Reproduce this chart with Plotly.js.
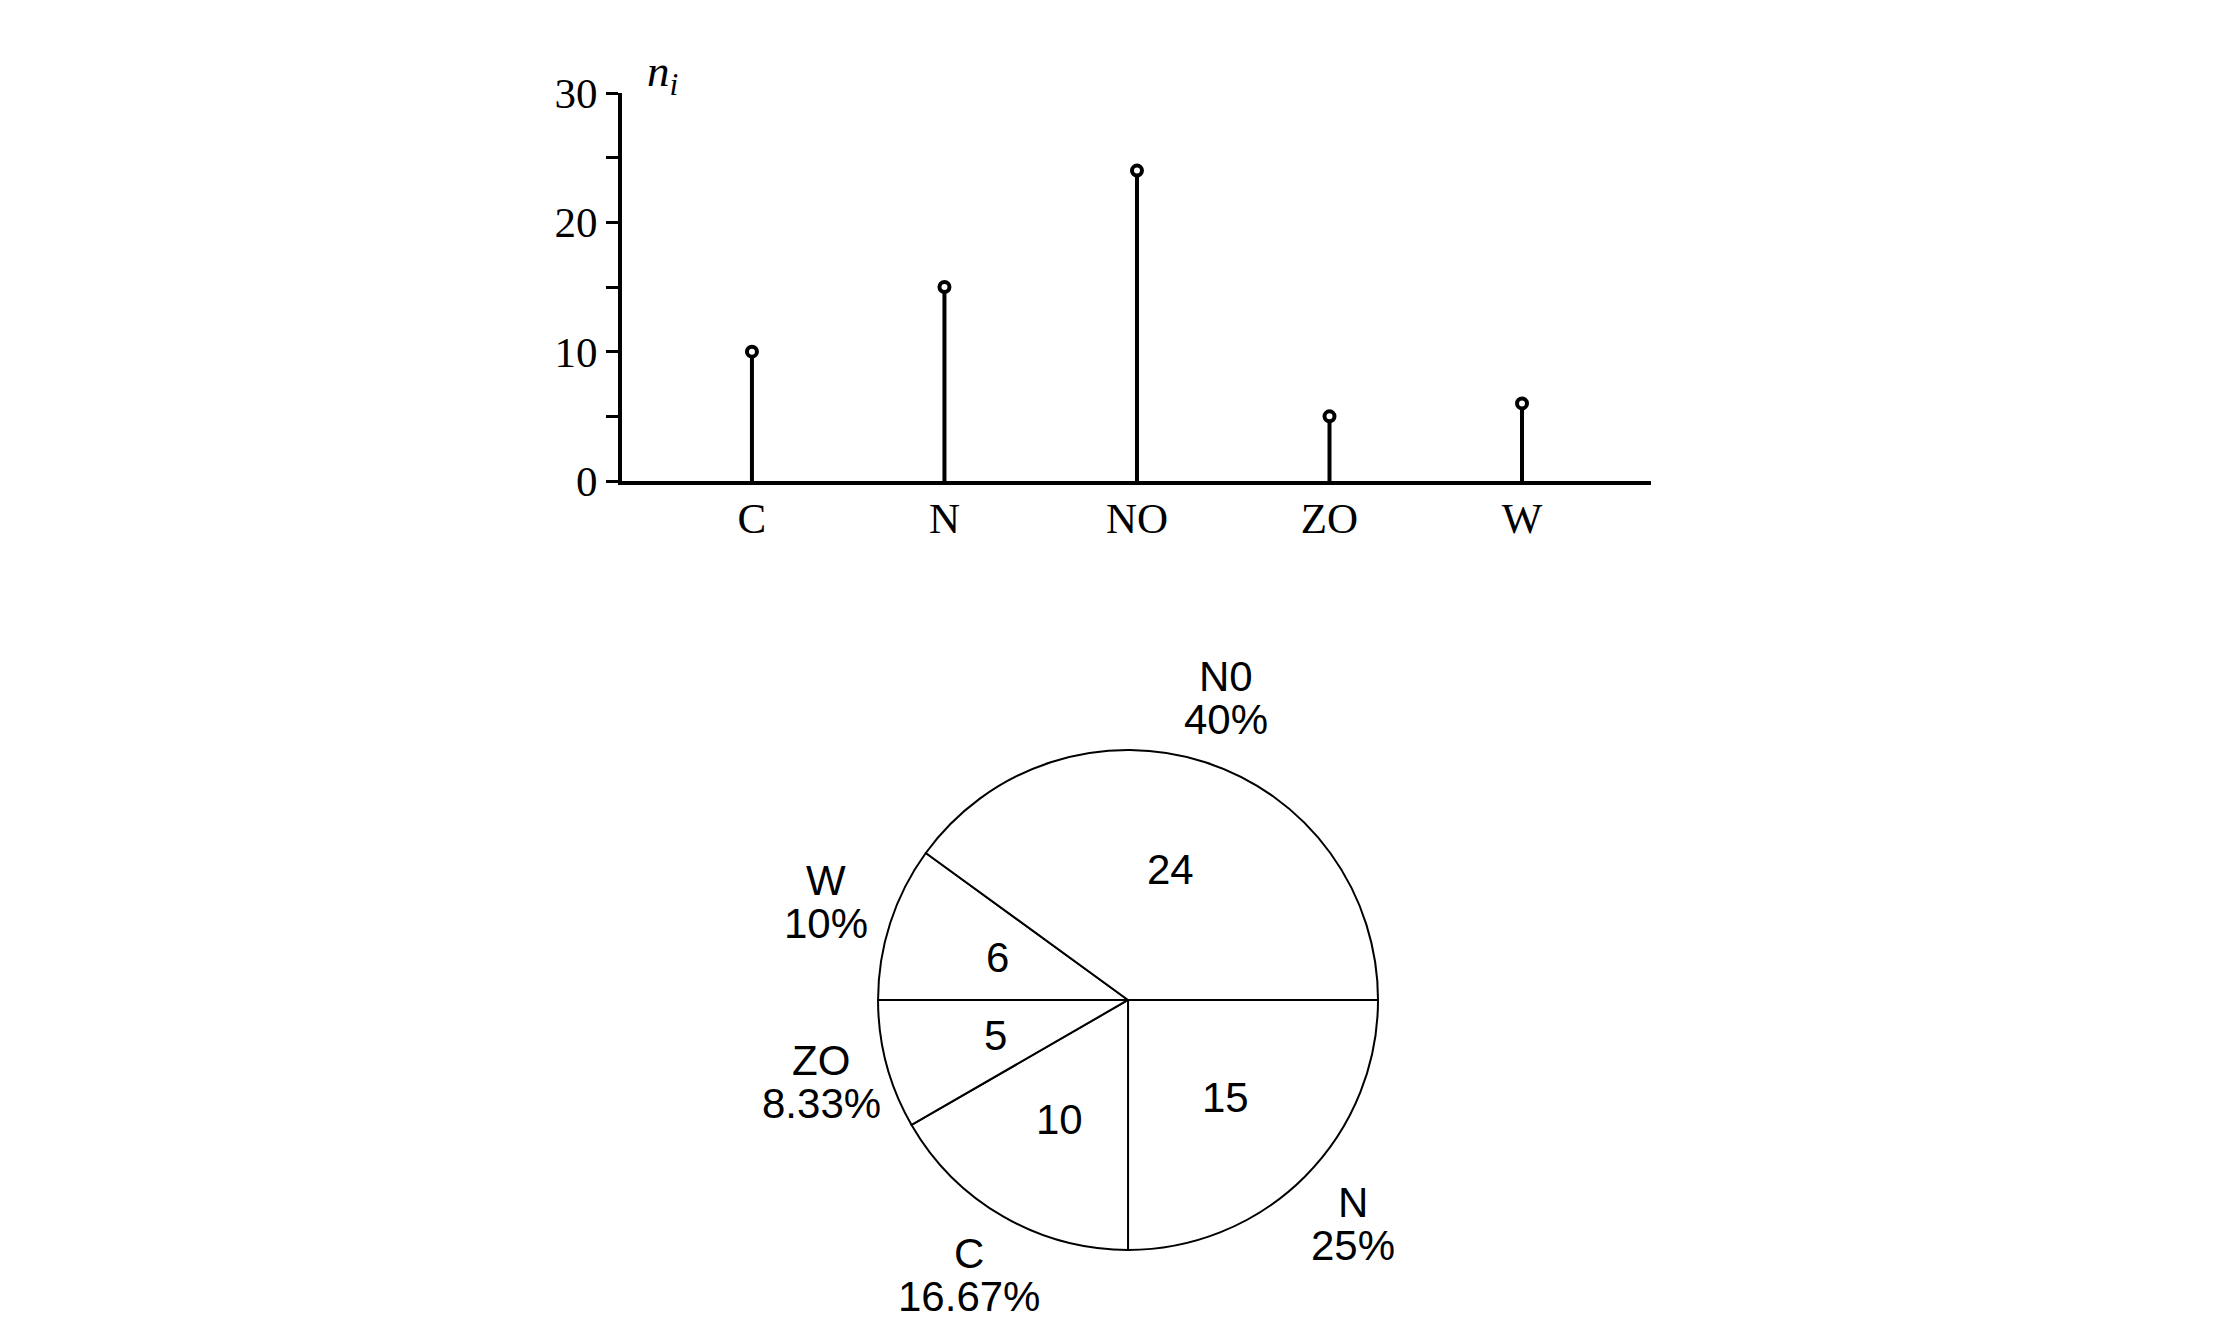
<!DOCTYPE html>
<html>
<head>
<meta charset="utf-8">
<script src="https://cdn.plot.ly/plotly-3.0.1.min.js"></script>
<style>
  html, body { margin: 0; padding: 0; background: #fff; }
  #chart { width: 2228px; height: 1322px; }
</style>
</head>
<body>
<div id="chart"></div>
<script>
// ---- data ----
var categories = ['C', 'N', 'NO', 'ZO', 'W'];
var counts = [10, 15, 24, 5, 6];
var yTickVals = [0, 10, 20, 30];
var yMinorTickVals = [5, 15, 25];
// pie order (clockwise from 3 o'clock) and the labels printed beside the pie
var pieCategories = ['N', 'C', 'ZO', 'W', 'NO'];
var pieLabelText = ['N', 'C', 'ZO', 'W', 'N0'];

// ---- derived ----
var W = 2228, H = 1322;
var pieValues = pieCategories.map(function (c) { return counts[categories.indexOf(c)]; });
var total = pieValues.reduce(function (a, b) { return a + b; }, 0);
var piePercent = pieValues.map(function (v) { return parseFloat((v / total * 100).toFixed(2)) + '%'; });

var pieDomX = [0.3941, 0.6185];
var pieDomY = [0.0545, 0.4327];
var cx = (pieDomX[0] + pieDomX[1]) / 2 * W;
var cy = (1 - (pieDomY[0] + pieDomY[1]) / 2) * H;
var r = Math.min((pieDomX[1] - pieDomX[0]) * W, (pieDomY[1] - pieDomY[0]) * H) / 2;

var sansFont = 'Liberation Sans, Arial, Helvetica, sans-serif';
var serifFont = 'Liberation Serif, Times New Roman, serif';

var annotations = [];
// y-axis name
annotations.push({
  xref: 'paper', yref: 'paper', x: 662 / W, y: 1 - 74 / H,
  text: '<i>n</i><sub><i>i</i></sub>', showarrow: false,
  xanchor: 'center', yanchor: 'middle',
  font: { family: serifFont, size: 45, color: '#000' }
});

var cum = 0;
pieValues.forEach(function (v, i) {
  var mid = (cum + v / 2) / total;
  cum += v;
  var th = -mid * 2 * Math.PI;
  var ux = Math.cos(th), uy = Math.sin(th);
  // value inside the slice
  var kin = 0.55;
  annotations.push({
    xref: 'paper', yref: 'paper',
    x: (cx + kin * r * ux) / W, y: 1 - (cy - kin * r * uy) / H,
    text: String(v), showarrow: false, xanchor: 'center', yanchor: 'middle',
    font: { family: sansFont, size: 42, color: '#000' }
  });
  // name and percent outside
  var kout = 1.27;
  var bx = cx + kout * r * ux, by = cy - kout * r * uy;
  annotations.push({
    xref: 'paper', yref: 'paper', x: bx / W, y: 1 - (by - 21.5) / H,
    text: pieLabelText[i], showarrow: false, xanchor: 'center', yanchor: 'middle',
    font: { family: sansFont, size: 42, color: '#000' }
  });
  annotations.push({
    xref: 'paper', yref: 'paper', x: bx / W, y: 1 - (by + 21.5) / H,
    text: piePercent[i], showarrow: false, xanchor: 'center', yanchor: 'middle',
    font: { family: sansFont, size: 42, color: '#000' }
  });
});

var stems = {
  type: 'scatter', mode: 'markers',
  x: categories, y: counts,
  marker: { symbol: 'circle', size: 10, color: '#fff', line: { color: '#000', width: 4 } },
  error_y: {
    type: 'data', symmetric: false,
    array: counts.map(function () { return 0; }),
    arrayminus: counts,
    width: 0, thickness: 4, color: '#000'
  },
  cliponaxis: false, hoverinfo: 'x+y', showlegend: false
};

var pie = {
  type: 'pie',
  labels: pieLabelText, values: pieValues,
  sort: false, direction: 'clockwise', rotation: 90,
  domain: { x: pieDomX, y: pieDomY },
  marker: { colors: pieValues.map(function () { return '#ffffff'; }), line: { color: '#000', width: 2 } },
  textinfo: 'none', showlegend: false, hoverinfo: 'label+value+percent'
};

var layout = {
  width: W, height: H,
  margin: { l: 0, r: 0, t: 0, b: 0 },
  paper_bgcolor: '#fff', plot_bgcolor: 'rgba(0,0,0,0)',
  showlegend: false,
  xaxis: {
    domain: [622 / W, 1651 / W],
    range: [-0.675, 4.67],
    type: 'category',
    showgrid: false, zeroline: false,
    showline: true, linecolor: '#000', linewidth: 4,
    ticks: '', ticklabelstandoff: -4,
    tickfont: { family: serifFont, size: 43, color: '#000' },
    fixedrange: true
  },
  yaxis: {
    domain: [1 - 481 / H, 1 - 93 / H],
    range: [0, 30],
    showgrid: false, zeroline: false,
    showline: true, linecolor: '#000', linewidth: 4,
    tickmode: 'array', tickvals: yTickVals, ticktext: yTickVals.map(String),
    ticks: 'outside', ticklen: 12, tickwidth: 3, tickcolor: '#000',
    minor: { tickmode: 'array', tickvals: yMinorTickVals, ticks: 'outside', ticklen: 12, tickwidth: 3, tickcolor: '#000', showgrid: false },
    tickfont: { family: serifFont, size: 43, color: '#000' },
    fixedrange: true
  },
  annotations: annotations
};

Plotly.newPlot('chart', [stems, pie], layout, { displayModeBar: false });
</script>
</body>
</html>
